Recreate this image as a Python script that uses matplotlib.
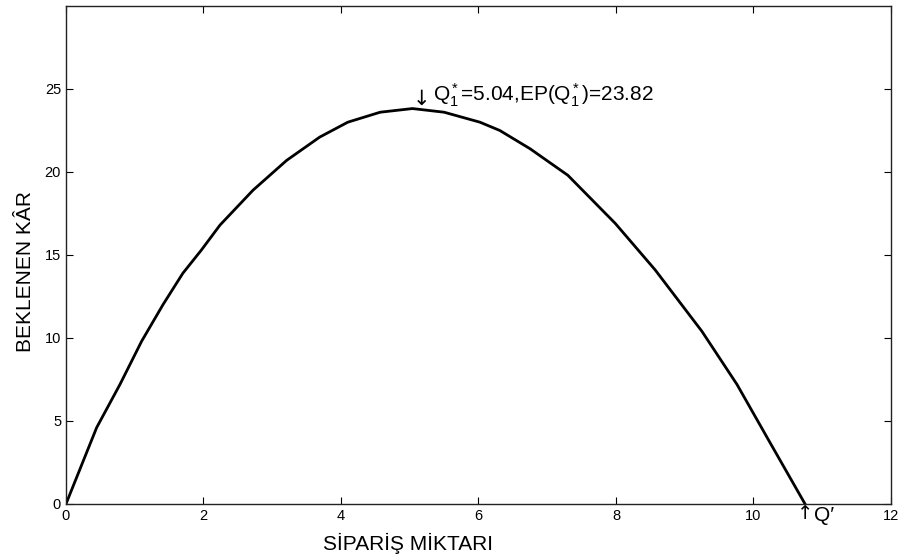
import matplotlib
matplotlib.use('Agg')
import matplotlib.pyplot as plt

# Order quantity and expected profit
siparis = [0.0, 0.446, 0.785, 1.10, 1.41, 1.70, 1.97, 2.24, 2.72, 3.21, 3.69,
           4.10, 4.57, 5.04, 5.50, 6.02, 6.31, 6.75, 7.30, 7.99, 8.57, 9.25,
           9.76, 10.24, 10.75]
kar = [0.0, 4.6, 7.2, 9.8, 12.0, 13.9, 15.3, 16.8, 18.9, 20.7, 22.1,
       23.0, 23.6, 23.82, 23.6, 23.0, 22.5, 21.4, 19.8, 16.9, 14.1, 10.4,
       7.2, 3.7, 0.0]

q_opt = 5.04
ep_opt = 23.82
q_prime = 10.75

xticks = [0, 2, 4, 6, 8, 10, 12]
yticks = [0, 5, 10, 15, 20, 25]

plt.rcParams['font.family'] = ['Liberation Sans', 'DejaVu Sans']
plt.rcParams['mathtext.fontset'] = 'custom'
plt.rcParams['mathtext.rm'] = 'Liberation Sans'
plt.rcParams['mathtext.it'] = 'Liberation Sans'

fig = plt.figure(figsize=(9, 5.58), dpi=100)
ax = fig.add_axes([0.0733, 0.0968, 0.9167, 0.8925])

ax.plot(siparis, kar, color='black', lw=2)

ax.set_xlim(0, 12)
ax.set_ylim(0, 30)
ax.set_xticks(xticks)
ax.set_yticks(yticks)
ax.tick_params(direction='in', top=True, right=True, length=5, width=0.8,
               labelsize=10.5)
for s in ax.spines.values():
    s.set_linewidth(1.0)
    s.set_color('#222222')

# optimum annotation
ax.text(q_opt, ep_opt, '\u2193', family='DejaVu Sans', ha='left',
        va='bottom', fontsize=15)
ax.annotate('$\\mathrm{Q}_1^*$=5.04,EP($\\mathrm{Q}_1^*$)=23.82',
            xy=(q_opt, ep_opt), xytext=(14.5, 0), textcoords='offset points',
            ha='left', va='bottom', fontsize=15)

# break-even quantity
ax.text(q_prime, 0, '\u2191', family='DejaVu Sans', ha='center', va='top',
        fontsize=14)
ax.annotate('Q\u2032', xy=(q_prime, 0), xytext=(6.5, -1.5),
            textcoords='offset points', ha='left', va='top', fontsize=15)

ax.set_xlabel('SİPARİŞ MİKTARI', fontsize=15)
ax.set_ylabel('BEKLENEN KÂR', fontsize=15)
ax.xaxis.set_label_coords(0.4145, -0.058)
ax.yaxis.set_label_coords(-0.038, 0.466)

fig.savefig('out.png', dpi=100)
